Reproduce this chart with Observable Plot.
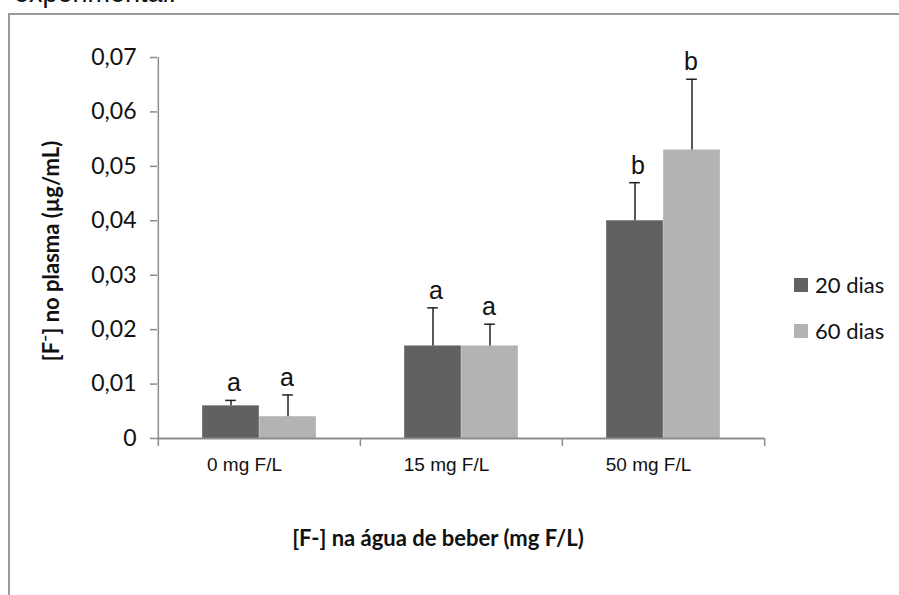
<!DOCTYPE html>
<html>
<head>
<meta charset="utf-8">
<script src="https://cdn.jsdelivr.net/npm/d3@7"></script>
<script src="https://cdn.jsdelivr.net/npm/@observablehq/plot@0.6"></script>
<style>
  html, body { margin: 0; padding: 0; background: #fff; }
  #wrap { position: relative; width: 899px; height: 595px; overflow: hidden; background: #fff; }
  #doc { position: absolute; left: 14px; top: -22px; font: 27px "Liberation Sans", Arial, sans-serif; color: #111; white-space: nowrap; }
  #box { position: absolute; left: 8px; top: 13px; width: 920px; height: 620px; border-left: 2px solid #9a9a9a; border-top: 2px solid #9a9a9a; }
  #chart { position: absolute; left: 0; top: 0; }
  .leg { position: absolute; left: 794px; display: flex; align-items: center; font: 22px Lato, "Open Sans", sans-serif; color: #111; white-space: nowrap; }
  .sw { width: 14px; height: 14px; margin-right: 7px; display: inline-block; }
  .title { position: absolute; font: bold 22px Lato, "Open Sans", sans-serif; color: #111; white-space: nowrap; }
  #ytitle { left: 50px; top: 251px; transform: translate(-50%, -50%) rotate(-90deg); }
  #xtitle { left: 438px; top: 537px; transform: translate(-50%, -50%); }
</style>
</head>
<body>
<div id="wrap">
  <div id="doc">experimental.</div>
  <div id="box"></div>
  <div id="chart"></div>
</div>
<script>
// ---- data ----
const groups = ["0 mg F/L", "15 mg F/L", "50 mg F/L"];
const series = ["20 dias", "60 dias"];
const mean20 = [0.006, 0.017, 0.040];
const err20  = [0.001, 0.007, 0.007];
const mean60 = [0.004, 0.017, 0.053];
const err60  = [0.004, 0.004, 0.013];
const letters20 = ["a", "a", "b"];
const letters60 = ["a", "a", "b"];
const yTicks = [0, 0.01, 0.02, 0.03, 0.04, 0.05, 0.06, 0.07];
const colors = ["#616161", "#b3b3b3"];
const yTitle = "[F\u207B] no plasma (\u00B5g/mL)";
const xTitle = "[F-] na \u00E1gua de beber (mg F/L)";

const rows20 = groups.map((g, i) => ({group: g, series: series[0], mean: mean20[i], top: mean20[i] + err20[i], letter: letters20[i]}));
const rows60 = groups.map((g, i) => ({group: g, series: series[1], mean: mean60[i], top: mean60[i] + err60[i], letter: letters60[i]}));

// ---- layout ----
const W = 899, H = 595;
const mL = 157, mR = 135, mT = 57, mB = 157;
const plotW = W - mL - mR, plotH = H - mT - mB;
const bw = plotW / groups.length;
const barW = 57;
const cap = 11;
const off = barW / 2;
const axisColor = "#8c8c8c";

const common = {x: "group"};
const chart = Plot.plot({
  width: W,
  height: H,
  marginLeft: mL,
  marginRight: mR,
  marginTop: mT,
  marginBottom: mB,
  style: {background: "transparent", overflow: "visible"},
  x: {type: "band", domain: groups, padding: 0},
  y: {domain: [0, 0.07]},
  color: {domain: series, range: colors},
  marks: [
    Plot.barY(rows20, {...common, y: "mean", fill: "series", insetLeft: bw / 2 - barW, insetRight: bw / 2}),
    Plot.barY(rows60, {...common, y: "mean", fill: "series", insetLeft: bw / 2, insetRight: bw / 2 - barW}),
    Plot.ruleX(rows20, {...common, y1: "mean", y2: "top", dx: -off, stroke: "#222", strokeWidth: 1.5}),
    Plot.ruleX(rows60, {...common, y1: "mean", y2: "top", dx: off, stroke: "#222", strokeWidth: 1.5}),
    Plot.tickY(rows20, {...common, y: "top", stroke: "#222", strokeWidth: 1.5,
      insetLeft: bw / 2 - off - cap / 2, insetRight: bw / 2 + off - cap / 2}),
    Plot.tickY(rows60, {...common, y: "top", stroke: "#222", strokeWidth: 1.5,
      insetLeft: bw / 2 + off - cap / 2, insetRight: bw / 2 - off - cap / 2}),
    Plot.text(rows20, {...common, y: "top", text: "letter", dx: -off + 3, dy: -9, lineAnchor: "bottom",
      fontSize: 25, fontFamily: "Liberation Sans, Arial, sans-serif", fill: "#111"}),
    Plot.text(rows60, {...common, y: "top", text: "letter", dx: off - 1, dy: -9, lineAnchor: "bottom",
      fontSize: 25, fontFamily: "Liberation Sans, Arial, sans-serif", fill: "#111"}),
    Plot.axisY({ticks: yTicks, tickFormat: d => d === 0 ? "0" : d.toFixed(2).replace(".", ","),
      tickSize: 7, tickPadding: 14, fontSize: 23, fontFamily: "Lato, 'Open Sans', sans-serif",
      stroke: axisColor, fill: "#111", strokeWidth: 1.5, label: null}),
    Plot.axisX({tickSize: 0, tickPadding: 19, fontSize: 19, fontFamily: "Liberation Sans, Arial, sans-serif",
      dx: -15, fill: "#111", label: null}),
    // axis lines
    Plot.ruleY([0], {stroke: axisColor, strokeWidth: 2}),
    Plot.ruleX(groups.slice(0, 1), {x: d => d, dx: -bw / 2, y1: 0, y2: 0.07, stroke: axisColor, strokeWidth: 1.5}),
    // category boundary ticks
    Plot.ruleX(groups, {x: d => d, dx: -bw / 2, insetTop: plotH, insetBottom: -8, stroke: axisColor, strokeWidth: 1.5}),
    Plot.ruleX(groups.slice(-1), {x: d => d, dx: bw / 2, insetTop: plotH, insetBottom: -8, stroke: axisColor, strokeWidth: 1.5})
  ]
});
document.getElementById("chart").appendChild(chart);

const wrap = document.getElementById("wrap");
// titles
const yt = document.createElement("div");
yt.id = "ytitle"; yt.className = "title"; yt.textContent = yTitle;
wrap.appendChild(yt);
const xt = document.createElement("div");
xt.id = "xtitle"; xt.className = "title"; xt.textContent = xTitle;
wrap.appendChild(xt);

// legend
series.forEach((s, i) => {
  const el = document.createElement("div");
  el.className = "leg";
  el.style.top = (271 + i * 46) + "px";
  el.innerHTML = `<span class="sw" style="background:${colors[i]}"></span><span>${s}</span>`;
  wrap.appendChild(el);
});
</script>
</body>
</html>
